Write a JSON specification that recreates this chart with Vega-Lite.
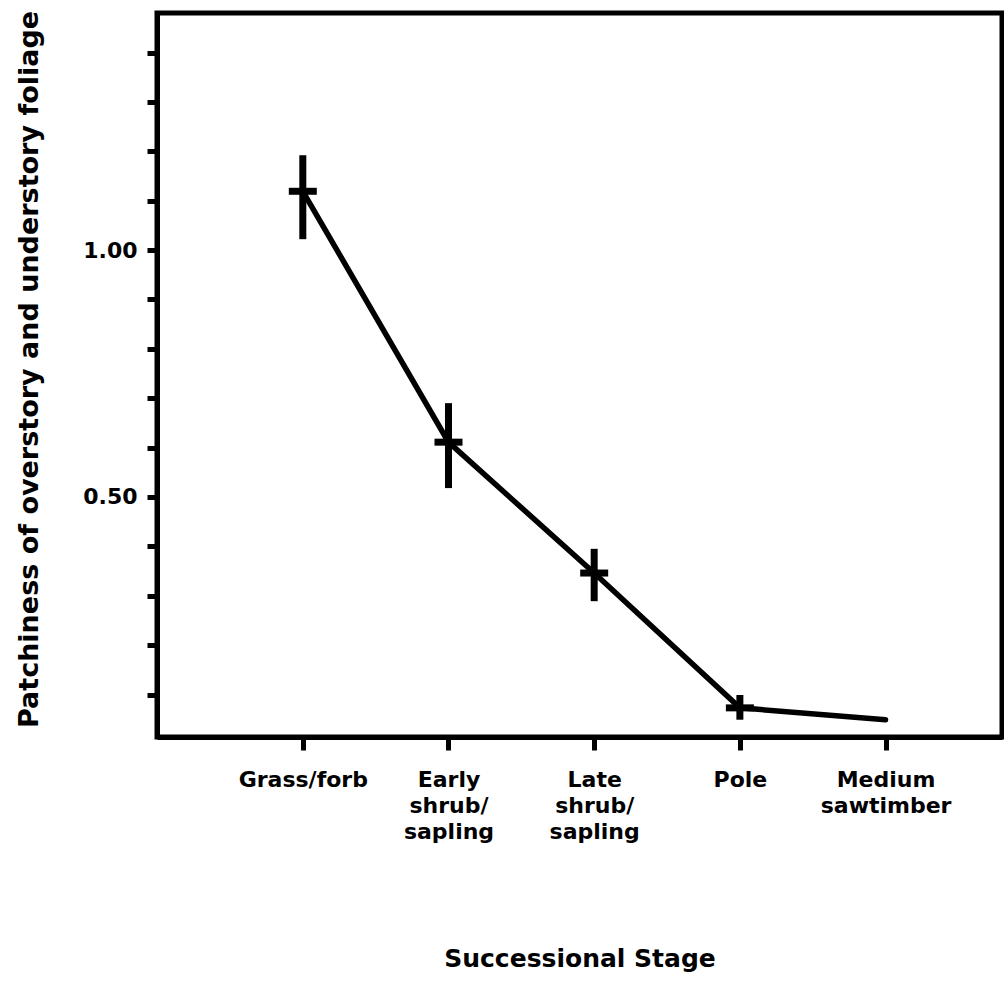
{
  "$schema": "https://vega.github.io/schema/vega-lite/v6.json",
  "width": 845,
  "height": 724,
  "autosize": {"type": "none"},
  "padding": {"left": 157, "top": 13, "right": 2, "bottom": 253},
  "background": "white",
  "config": {
    "font": "DejaVu Sans",
    "view": {"stroke": "black", "strokeWidth": 5},
    "axis": {
      "domainColor": "black", "domainWidth": 5,
      "tickColor": "black", "tickWidth": 5,
      "labelColor": "black", "labelFont": "DejaVu Sans", "labelFontWeight": "bold", "labelFontSize": 22,
      "titleColor": "black", "titleFont": "DejaVu Sans", "titleFontWeight": "bold", "titleFontSize": 25,
      "grid": false
    }
  },
  "data": {
    "values": [
      {"stage": "Grass/forb", "value": 1.119, "lo": 1.022, "hi": 1.192},
      {"stage": "Early\nshrub/\nsapling", "value": 0.611, "lo": 0.518, "hi": 0.690},
      {"stage": "Late\nshrub/\nsapling", "value": 0.346, "lo": 0.289, "hi": 0.395},
      {"stage": "Pole", "value": 0.073, "lo": 0.049, "hi": 0.099},
      {"stage": "Medium\nsawtimber", "value": 0.049, "lo": null, "hi": null}
    ]
  },
  "encoding": {
    "x": {
      "field": "stage", "type": "nominal",
      "scale": {"type": "point", "padding": 0.9, "align": 0.556,
        "domain": ["Grass/forb", "Early\nshrub/\nsapling", "Late\nshrub/\nsapling", "Pole", "Medium\nsawtimber"]},
      "axis": {
        "title": "Successional Stage",
        "labelAngle": 0,
        "labelExpr": "split(datum.label, '\\n')",
        "labelLineHeight": 26,
        "tickSize": 13,
        "labelPadding": 19,
        "titlePadding": 104
      }
    }
  },
  "layer": [
    {
      "mark": {"type": "line", "color": "black", "strokeWidth": 5.5, "strokeCap": "round"},
      "encoding": {
        "y": {
          "field": "value", "type": "quantitative",
          "scale": {"domain": [0.014, 1.48], "nice": false, "zero": false},
          "axis": {
            "title": "Patchiness of overstory and understory foliage",
            "titleFontSize": 27,
            "values": [0.1, 0.2, 0.3, 0.4, 0.5, 0.6, 0.7, 0.8, 0.9, 1.0, 1.1, 1.2, 1.3, 1.4],
            "labelExpr": "abs(datum.value - 1) < 0.001 ? '1.00' : abs(datum.value - 0.5) < 0.001 ? '0.50' : ''",
            "tickSize": 10,
            "labelPadding": 10,
            "titleX": -120,
            "titleY": 356,
            "titleBaseline": "alphabetic",
            "titleAlign": "center",
            "titleAngle": -90
          }
        }
      }
    },
    {
      "transform": [{"filter": "datum.lo != null"}],
      "mark": {"type": "rule", "color": "black", "strokeWidth": 7},
      "encoding": {
        "y": {"field": "lo", "type": "quantitative"},
        "y2": {"field": "hi"}
      }
    },
    {
      "transform": [{"filter": "datum.lo != null"}],
      "mark": {"type": "tick", "orient": "horizontal", "color": "black", "size": 28, "thickness": 7, "opacity": 1},
      "encoding": {
        "y": {"field": "value", "type": "quantitative"}
      }
    }
  ]
}
